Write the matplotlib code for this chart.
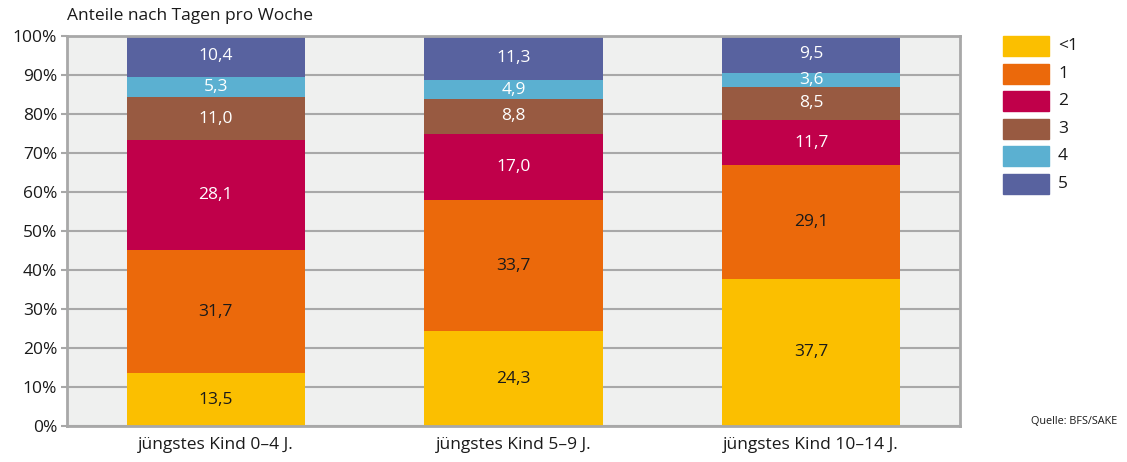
import matplotlib
matplotlib.use("Agg")
import matplotlib.pyplot as plt
from matplotlib.patches import Rectangle
import numpy as np

plt.rcParams['font.family'] = ['Open Sans', 'DejaVu Sans']

categories = ["jüngstes Kind 0–4 J.", "jüngstes Kind 5–9 J.", "jüngstes Kind 10–14 J."]
series_names = ["<1", "1", "2", "3", "4", "5"]
values = {
    "<1": [13.5, 24.3, 37.7],
    "1": [31.7, 33.7, 29.1],
    "2": [28.1, 17.0, 11.7],
    "3": [11.0, 8.8, 8.5],
    "4": [5.3, 4.9, 3.6],
    "5": [10.4, 11.3, 9.5],
}
colors = ["#FBBF00", "#EB690B", "#C0004A", "#985A41", "#5BB0D1", "#58629F"]
text_colors = ["#1a1a1a", "#1a1a1a", "white", "white", "white", "white"]
yticks = [0, 10, 20, 30, 40, 50, 60, 70, 80, 90, 100]
ytick_labels = [f"{t}%" for t in yticks]

fig = plt.figure(figsize=(11.27, 4.62), dpi=100)
ax = fig.add_axes([67/1127, 1-426/462, (960-67)/1127, (426-36)/462])
ax.set_facecolor("#EFF0EF")

x = np.arange(len(categories))
bottom = np.zeros(len(categories))
for name, col, tc in zip(series_names, colors, text_colors):
    v = np.array(values[name])
    ax.bar(x, v, 0.6, bottom=bottom, color=col, zorder=3, label=name)
    for xi, vi, bi in zip(x, v, bottom):
        top = min(bi + vi, 100)
        yc = (bi + top) / 2
        ax.text(xi, yc, f"{vi:.1f}".replace(".", ","), ha="center", va="center",
                color=tc, fontsize=12.5, zorder=4)
    bottom += v

ax.set_xlim(-0.5, 2.5)
ax.set_ylim(0, 100)
ax.set_yticks(yticks)
ax.set_yticklabels(ytick_labels, fontsize=12.5, color="#1a1a1a")
ax.set_xticks(x)
ax.set_xticklabels(categories, fontsize=12.5, color="#1a1a1a")
ax.tick_params(axis="x", length=0, pad=8)
ax.tick_params(axis="y", length=4, color="#A8A8A8", width=1.5, pad=3)
ax.grid(axis="y", color="#A8A8A8", linewidth=1.5, zorder=1)
for s in ["left", "right", "top", "bottom"]:
    ax.spines[s].set_color("#A8A8A8")
    ax.spines[s].set_linewidth(2)
    ax.spines[s].set_zorder(5)

fig.text(67/1127, 1-16/462, "Anteile nach Tagen pro Woche", ha="left", va="center",
         fontsize=12.5, color="#1a1a1a")
fig.text(1117/1127, 1-421/462, "Quelle: BFS/SAKE", ha="right", va="center",
         fontsize=7.8, color="#1a1a1a")

# legend
for i, (name, col) in enumerate(zip(series_names, colors)):
    ytop = 36 + i * 27.6
    fig.patches.append(Rectangle((1003/1127, 1-(ytop+20)/462), 46/1127, 20/462,
                                 transform=fig.transFigure, color=col, figure=fig))
    fig.text(1058/1127, 1-(ytop+10)/462, name, ha="left", va="center",
             fontsize=12.5, color="#1a1a1a")

fig.savefig("out.png", dpi=100)
